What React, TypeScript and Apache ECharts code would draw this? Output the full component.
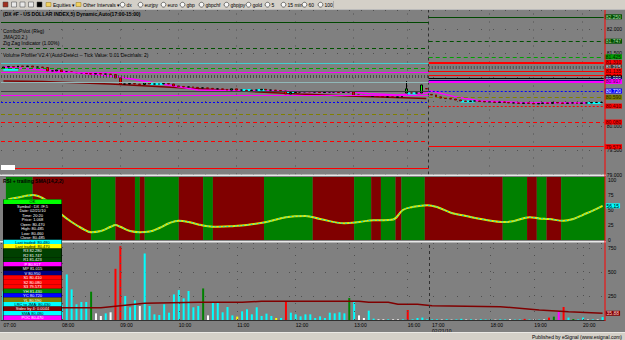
import React, { useEffect, useRef } from "react";
import * as echarts from "echarts";

// ---------- DATA ----------
const BAR_COUNT = 124;
const tickBars = [0, 12, 24, 36, 48, 60, 72, 83, 88, 100, 109, 119];
const tickLabels = ["07:00", "08:00", "09:00", "10:00", "11:00", "12:00", "13:00", "16:00", "17:00", "18:00", "19:00", "20:00"];
const sessionDate = "02/21/10";
const eveningStart = 88;

const closes = [
  81.215, 81.225, 81.215, 81.235, 81.225, 81.235, 81.215, 81.215, 81.205, 81.135,
  81.135, 81.155, 81.115, 81.115, 81.105, 81.095, 81.095, 81.08, 81.07, 81.08,
  81.07, 81.07, 81.06, 80.99, 80.865, 80.865, 80.875, 80.865, 80.855, 80.885,
  80.865, 80.865, 80.865, 80.875, 80.865, 80.825, 80.815, 80.805, 80.805, 80.795,
  80.785, 80.785, 80.775, 80.765, 80.765, 80.755, 80.74, 80.765, 80.74, 80.74,
  80.73, 80.74, 80.74, 80.755, 80.74, 80.74, 80.73, 80.72, 80.66, 80.69,
  80.7, 80.7, 80.71, 80.7, 80.7, 80.69, 80.7, 80.7, 80.7, 80.69,
  80.7, 80.7, 80.64, 80.63, 80.62, 80.61, 80.62, 80.61, 80.6, 80.6,
  80.59, 80.6, 80.61, 80.765, 80.68, 80.68, 80.845, 80.765, 80.64, 80.6,
  80.575, 80.565, 80.555, 80.535, 80.515, 80.505, 80.515, 80.515, 80.505, 80.495,
  80.495, 80.485, 80.495, 80.485, 80.475, 80.475, 80.465, 80.475, 80.465, 80.455,
  80.465, 80.475, 80.465, 80.485, 80.475, 80.465, 80.475, 80.475, 80.465, 80.475,
  80.475, 80.485, 80.485, 80.485,
];
const openOverrides: [number, number][] = [[0, 81.195], [83, 80.68], [84, 80.68], [86, 80.68], [87, 80.77], [88, 80.65]];
const highOverrides: [number, number][] = [[83, 80.925]];

const volumes = [
  300, 250, 210, 180, 220, 150, 120, 100, 140, 260, 180, 90, 150,
  473, 318, 163, 187, 187, 294, 69, 42, 69, 80,
  532, 767, 249, 132, 204, 145, 691, 145, 59, 52,
  163, 76, 266, 311, 225, 301, 132, 145, 328, 48,
  180, 180, 80, 135, 48, 35, 90, 111, 59, 132,
  42, 66, 42, 21, 21, 190, 76, 59, 38, 59,
  59, 21, 38, 21, 76, 69, 80, 69, 228, 187,
  48, 21, 97, 14, 7, 7, 7, 7, 7, 7,
  104, 7, 21, 25, 7, 7, 7,
  5, 8, 4, 6, 12, 5, 7, 4, 8, 5,
  6, 4, 7, 5, 8, 4, 6, 12, 5, 7,
  4, 6, 25, 35, 93, 135, 25, 10, 6, 25,
  5, 7, 6, 30,
];
const volumeKinds = (
  "ccccccccccccc" + "cccccgwwcw" + "rrcccwcccc" + "ccccccccgw" + "cccccycccc" +
  "cccycrcccc" + "ccccccccgc" + "wwccwwcwwc" + "rcccccc" + "wcwccwcwcc" + "cwccwccrcw" +
  "cwrgmrcgcc" + "wcwc"
).split("");

const volumeAverage: [number, number][] = [
  [0, 128], [20, 128], [24, 149], [29, 173], [40, 184], [49, 184], [53, 194], [73, 194],
  [75, 184], [79, 184], [81, 163], [85, 163], [88, 149], [102, 138], [110, 104], [116, 86], [123, 70],
];
const volumeAverageLabel = "35.88";

const rsiPoints: [number, number][] = [
  [1, 68], [3, 71], [5, 74], [6, 75], [8, 70], [10, 58], [12, 42], [14, 30], [16, 20], [18, 13],
  [20, 15], [22, 22], [23, 25], [24, 22], [26, 15], [28, 13], [30, 14], [32, 20], [34, 28], [36, 32],
  [38, 30], [40, 26], [42, 23], [44, 22], [47, 23], [50, 25], [54, 30], [58, 38], [62, 40], [65, 35],
  [70, 28], [73, 30], [76, 33], [78, 33], [80, 34], [82, 50], [84, 55], [87, 58], [89, 55], [92, 45],
  [95, 40], [98, 35], [103, 30], [105, 32], [108, 38], [110, 36], [112, 35], [115, 32], [117, 35],
  [119, 42], [121, 49], [123, 57],
];
const rsiLastLabel = "56.15";
const rsiZones: [number, number, string][] = [
  [1, 6.5, "up"], [6.5, 18.5, "down"], [18.5, 23.5, "up"], [23.5, 27.5, "down"], [27.5, 28.5, "up"],
  [28.5, 29.5, "down"], [29.5, 36.5, "up"], [36.5, 41.5, "down"], [41.5, 43.5, "up"], [43.5, 54, "down"],
  [54, 64, "up"], [64, 72.5, "down"], [72.5, 76, "up"], [76, 78, "down"], [78, 81, "up"], [81, 82.2, "down"],
  [82.2, 87, "up"], [87, 103, "down"], [103, 108, "up"], [108, 110, "down"], [110, 112, "up"],
  [112, 115, "down"], [115, 124, "up"],
];

const jmaPoints: [number, number][] = [
  [0, 81.215], [13, 81.115], [24, 81.01], [40, 80.74], [61, 80.71], [72, 80.7], [75, 80.67], [81, 80.64],
  [87, 80.68], [88, 80.72], [93, 80.6], [98, 80.515], [106, 80.485], [123, 80.475],
];
const lowerLinePoints: [number, number][] = [
  [0, 80.925], [8, 80.915], [22, 80.865], [45, 80.74], [61, 80.66], [71, 80.62], [87, 80.565],
];
const cyanSegments: [number, number, number][] = [
  [0, 3, 81.16], [30, 33, 80.865], [49, 51, 80.742], [52, 54, 80.742], [58, 60, 80.7],
  [83, 85, 80.67], [94, 97, 80.505], [120, 123, 80.475],
];

const leftLevels = [82.135, 81.6, 81.3, 81.19, 81.115, 81.02, 80.905, 80.71, 80.64, 80.485, 80.245, 79.68, 79.13];
const leftLevelKinds = ["dkgreen", "dkgreenDash", "cyan", "greenDash", "magenta", "ticks", "paleCyan", "dkgray", "magenta", "blueDot", "oliveDash", "redDash", "red"];
const rightLevels = [82.25, 81.747, 81.425, 81.31, 81.215, 81.135, 81.04, 80.99, 80.95, 80.917, 80.72, 80.59, 80.41, 79.573];
const rightLevelKinds = ["dkgreen", "dkgreenDash", "greenDash", "redThick", "ticks", "red", "red", "black", "navy", "magentaThick", "blueDot", "oliveDash", "redDot", "red"];
const sharedLevels = [80.08];
const sharedLevelKinds = ["redDash"];
const lastPrice = 80.485;

const priceAxisLabels = [79, 79.5, 80, 81.5, 82];
const rsiAxisLabels = [0, 25, 50, 75, 100];
const volumeAxisLabels = [250, 500, 750];

const legendRows = [
  "OK", "Symbol : DX #F,5", "Date: 02/21/10", "Time: 20:20", "Price: 1.068", "Open: 80.470", "High: 80.485",
  "Low: 80.460", "Close: 80.485", "Last traded: 80.480", "Last traded: 80.470", "R3 82.280", "R2 81.747",
  "R1 81.423", "P 80.917", "MP 81.015", "V 80.950", "S1 80.410", "S2 80.080", "S3 79.573", "YH 81.430",
  "YC 80.720", "YL 80.590", "LRC to JMA: 80.430", "Stdev by 4: 0.0044", "SMA 80.480", "POC 80.470",
];
const legendFills = [
  "#00ff00", "#000000", "#000000", "#000000", "#000000", "#000000", "#000000", "#000000", "#000000",
  "#00ffff", "#ffff00", "#004000", "#004000", "#004000", "#ff00ff", "#000000", "#000080", "#ff0000",
  "#ff0000", "#ff0000", "#008000", "#0000ff", "#808000", "#00ffff", "#800000", "#00ffff", "#ff00ff",
];

const titleText = "(DX #F - US DOLLAR INDEX,5) Dynamic,Auto(17:00-15:00)";
const studyTitles = ["ComboPivot (Reg)", "JMA(20,2,)", "Zig Zag Indicator (1.00%)", "Volume Profiler V2.4 (Auto-Detect -- Tick Value: 0.01 Decimals: 2)"];
const rsiTitle = "RSI + trailing SMA(14,2,2)";
const toolbarFolders = ["Equities", "Other Intervals"];
const toolbarSymbols = ["dx", "eurjpy", "euro", "gbp", "gbpchf", "gbpjpy", "gold", "5", "15 min", "60", "100"];
const footerText = "Published by eSignal (www.esignal.com)";

// ---------- STYLES ----------
const FONT = "Arial, 'Liberation Sans', sans-serif";
const levelStyles: Record<string, any> = {
  dkgreen: { color: "#004800", width: 1, type: "solid" },
  dkgreenDash: { color: "#005000", width: 1, type: [4, 3] },
  greenDash: { color: "#00a000", width: 1, type: [4, 3] },
  cyan: { color: "#40d0d0", width: 1, type: "solid" },
  paleCyan: { color: "#90b8b8", width: 1, type: "solid" },
  magenta: { color: "#ff00ff", width: 1, type: "solid" },
  magentaThick: { color: "#ff00ff", width: 2, type: "solid" },
  ticks: { color: "#4a4a4a", width: 3, type: [1, 2] },
  dkgray: { color: "#404040", width: 1, type: "solid" },
  blueDot: { color: "#0000ff", width: 1, type: [2, 2] },
  oliveDash: { color: "#808000", width: 1, type: [4, 3] },
  redDash: { color: "#ff0000", width: 1, type: [4, 3] },
  redDot: { color: "#ff0000", width: 1, type: [2, 2] },
  red: { color: "#ff0000", width: 1, type: "solid" },
  redThick: { color: "#ff0000", width: 2, type: "solid" },
  black: { color: "#000000", width: 1, type: "solid" },
  navy: { color: "#000080", width: 1, type: "solid" },
};
const levelLabelColors: Record<string, [string, string]> = {
  dkgreen: ["#005000", "#a8d8a8"], dkgreenDash: ["#005000", "#a8d8a8"], greenDash: ["#00a000", "#002000"],
  ticks: ["#404040", "#e0e0e0"], red: ["#ff0000", "#400000"], redThick: ["#ff0000", "#400000"],
  redDash: ["#ff0000", "#400000"], redDot: ["#ff0000", "#400000"], black: ["#000000", "#ffffff"],
  navy: ["#000080", "#ffffff"], magentaThick: ["#ff00ff", "#400040"], blueDot: ["#0000ff", "#ffffff"],
  oliveDash: ["#808000", "#202000"],
};
const volumeColors: Record<string, string> = {
  c: "#00ffff", w: "#ffffff", r: "#ff0000", g: "#008000", y: "#ffff00", m: "#ff00ff",
};
const tagLabel = (text: string, bg: string, fg: string) => ({
  show: true, formatter: text, backgroundColor: bg, color: fg, fontSize: 5, lineHeight: 5,
  fontFamily: FONT, padding: [0, 1, 0, 1],
});

export default function App() {
  const ref = useRef<HTMLDivElement>(null);
  useEffect(() => {
    document.body.style.margin = "0";
    if (!ref.current) return;
    const chart = echarts.init(ref.current, undefined, { renderer: "svg" });

    const categories = closes.map((_, i) => String(i));
    const tickMap: Record<number, string> = {};
    tickBars.forEach((b, k) => {
      tickMap[b] = b === eveningStart ? tickLabels[k] + "\n" + sessionDate : tickLabels[k];
    });

    const openMap = new Map(openOverrides);
    const highMap = new Map(highOverrides);
    const candleData = closes.map((c, i) => {
      const o = openMap.has(i) ? openMap.get(i)! : i > 0 ? closes[i - 1] : c;
      const hi = highMap.has(i) ? highMap.get(i)! : Math.max(o, c);
      return [o, c, Math.min(o, c), hi];
    });

    const fmt3 = (v: number) => v.toFixed(3);
    const levelLine = (x0: number, x1: number, v: number, kind: string, withLabel: boolean) => {
      const lc = levelLabelColors[kind];
      return [
        {
          coord: [x0, v],
          lineStyle: levelStyles[kind],
          label: withLabel && lc
            ? { ...tagLabel(fmt3(v), lc[0], lc[1]), position: "end", distance: 1 }
            : { show: false },
        },
        { coord: [x1, v] },
      ];
    };

    const priceMarkLines: any[] = [];
    leftLevels.forEach((v, k) => priceMarkLines.push(levelLine(0, eveningStart, v, leftLevelKinds[k], false)));
    sharedLevels.forEach((v, k) => priceMarkLines.push(levelLine(0, BAR_COUNT, v, sharedLevelKinds[k], true)));
    rightLevels.forEach((v, k) => priceMarkLines.push(levelLine(eveningStart, BAR_COUNT, v, rightLevelKinds[k], true)));
    priceMarkLines.push({
      yAxis: lastPrice,
      lineStyle: { opacity: 0 },
      label: { ...tagLabel(fmt3(lastPrice), "#00ff00", "#000"), position: "end", distance: 1 },
    });

    const hourLines = tickBars.filter((b) => b !== 0 && b !== eveningStart).map((b) => ({
      xAxis: b + 0.5, lineStyle: { color: "#505050", width: 1, type: [1, 7] }, label: { show: false },
    }));
    const sessionLine = { xAxis: eveningStart, lineStyle: { color: "#303030", width: 1, type: [3, 3] }, label: { show: false } };

    const cyanData: any[] = [];
    cyanSegments.forEach(([a, b, v]) => {
      cyanData.push([a + 0.5, v], [b + 0.5, v], [b + 0.5, null]);
    });

    const zoneColor: Record<string, string> = { up: "#008000", down: "#800000" };

    const option: any = {
      animation: false,
      backgroundColor: "#808080",
      textStyle: { fontFamily: FONT },
      grid: [
        { left: 1, right: 20, top: 10, height: 164.5 },
        { left: 1, right: 20, top: 177, height: 63 },
        { left: 1, right: 20, top: 243, height: 77 },
      ],
      xAxis: [
        { type: "category", gridIndex: 0, data: categories, show: false, boundaryGap: true },
        { type: "value", gridIndex: 0, min: 0, max: BAR_COUNT, show: false },
        { type: "value", gridIndex: 1, min: 0, max: BAR_COUNT, show: false },
        {
          type: "category", gridIndex: 2, data: categories, boundaryGap: true,
          axisLine: { show: true, lineStyle: { color: "#303030", width: 1 } },
          axisTick: { show: false },
          splitLine: { show: false },
          axisLabel: {
            interval: 0, fontSize: 5, color: "#000", align: "left", margin: 2, lineHeight: 6, fontFamily: FONT,
            formatter: (_v: string, idx: number) => tickMap[idx] || "",
          },
        },
        { type: "value", gridIndex: 2, min: 0, max: BAR_COUNT, show: false },
      ],
      yAxis: [
        {
          type: "value", gridIndex: 0, position: "right", min: 79, max: 82.39, interval: 0.5, scale: true,
          axisLine: { show: false }, axisTick: { show: false },
          splitLine: { show: true, lineStyle: { color: "#505050", type: [1, 11] } },
          axisLabel: {
            fontSize: 5, color: "#000", margin: 3, fontFamily: FONT,
            formatter: (v: number) => (priceAxisLabels.some((p) => Math.abs(p - v) < 1e-6) ? v.toFixed(3) : ""),
          },
        },
        {
          type: "value", gridIndex: 1, position: "right", min: 0, max: 105, interval: 25,
          axisLine: { show: false }, axisTick: { show: false }, splitLine: { show: false },
          axisLabel: {
            fontSize: 5, color: "#000", margin: 3, fontFamily: FONT,
            formatter: (v: number) => (rsiAxisLabels.includes(v) ? String(v) : ""),
          },
        },
        {
          type: "value", gridIndex: 2, position: "right", min: 0, max: 800, interval: 250,
          axisLine: { show: false }, axisTick: { show: false },
          splitLine: { show: true, lineStyle: { color: "#505050", type: [1, 11] } },
          axisLabel: {
            fontSize: 5, color: "#000", margin: 3, fontFamily: FONT,
            formatter: (v: number) => (volumeAxisLabels.includes(v) ? String(v) : ""),
          },
        },
      ],
      series: [
        {
          type: "line", xAxisIndex: 1, yAxisIndex: 0, data: [], z: 1, silent: true,
          markLine: { silent: true, symbol: ["none", "none"], label: { show: false }, data: [...hourLines, sessionLine, ...priceMarkLines] },
        },
        {
          type: "line", xAxisIndex: 1, yAxisIndex: 0, z: 2, symbol: "none", silent: true,
          data: lowerLinePoints.map(([i, v]) => [i + 0.5, v]),
          lineStyle: { color: "#800000", width: 1.5 },
        },
        {
          type: "line", xAxisIndex: 1, yAxisIndex: 0, z: 3, symbol: "none", silent: true,
          data: jmaPoints.map(([i, v]) => [i + 0.5, v]),
          lineStyle: { color: "#ff00ff", width: 1.5 },
        },
        {
          type: "line", xAxisIndex: 1, yAxisIndex: 0, z: 3, symbol: "none", silent: true, connectNulls: false,
          data: cyanData, lineStyle: { color: "#00ffff", width: 2 },
        },
        {
          type: "candlestick", xAxisIndex: 0, yAxisIndex: 0, z: 4, silent: true, barMaxWidth: 3,
          data: candleData,
          itemStyle: { color: "#00ff00", color0: "#ff0000", borderColor: "#000000", borderColor0: "#800000", borderWidth: 1 },
        },
        {
          type: "line", xAxisIndex: 2, yAxisIndex: 1, data: [], z: 1, silent: true,
          markArea: {
            silent: true,
            data: rsiZones.map(([a, b, k]) => [{ xAxis: a, itemStyle: { color: zoneColor[k] } }, { xAxis: b }]),
          },
        },
        {
          type: "line", xAxisIndex: 2, yAxisIndex: 1, z: 3, symbol: "none", smooth: 0.4, silent: true,
          data: rsiPoints.map(([i, v]) => [i + 0.5, v]),
          lineStyle: { color: "#e8e800", width: 2 },
        },
        {
          type: "line", xAxisIndex: 2, yAxisIndex: 1, z: 4, symbol: "none", smooth: 0.4, silent: true,
          data: rsiPoints.map(([i, v]) => [i + 0.5, v]),
          lineStyle: { color: "#00e0e0", width: 1, type: [2, 2] },
          endLabel: { ...tagLabel(rsiLastLabel, "#00ffff", "#000"), distance: 3 },
        },
        {
          type: "bar", xAxisIndex: 3, yAxisIndex: 2, z: 3, barWidth: 2, silent: true,
          data: volumes.map((v, i) => ({ value: v, itemStyle: { color: volumeColors[volumeKinds[i]] || "#00ffff" } })),
        },
        {
          type: "line", xAxisIndex: 4, yAxisIndex: 2, data: [], z: 1, silent: true,
          markLine: { silent: true, symbol: ["none", "none"], label: { show: false }, data: [...hourLines, sessionLine] },
        },
        {
          type: "line", xAxisIndex: 4, yAxisIndex: 2, z: 4, symbol: "none", silent: true,
          data: volumeAverage.map(([i, v]) => [i + 0.5, v]),
          lineStyle: { color: "#800000", width: 1.5 },
          endLabel: { ...tagLabel(volumeAverageLabel, "#800000", "#ffd0d0"), distance: 3 },
        },
      ],
      graphic: buildGraphics(),
    };
    chart.setOption(option);
    return () => chart.dispose();
  }, []);

  return <div ref={ref} style={{ width: 625, height: 340 }} />;
}

function buildGraphics() {
  const g: any[] = [];
  const Z = 100;
  // toolbar
  g.push({ type: "rect", z: Z, shape: { x: 0, y: 0, width: 625, height: 9 }, style: { fill: "#d4d0c8" } });
  g.push({ type: "rect", z: Z, shape: { x: 0, y: 9, width: 625, height: 0.6 }, style: { fill: "#f4f4f4" } });
  const iconFills = ["#a03020", "#e8e8e8", "#e8e8e8", "#e8e8e8", "#000000"];
  iconFills.forEach((f, k) => {
    g.push({ type: "rect", z: Z, shape: { x: 3 + k * 8.5, y: 2, width: 5, height: 5 }, style: { fill: f, stroke: "#404040", lineWidth: 0.5 } });
  });
  const folderX = [46, 76];
  toolbarFolders.forEach((t, k) => {
    g.push({ type: "rect", z: Z, shape: { x: folderX[k], y: 2.5, width: 5, height: 4 }, style: { fill: "#f0d060", stroke: "#806000", lineWidth: 0.4 } });
    g.push({ type: "text", z: Z, style: { x: folderX[k] + 7, y: 4.8, text: t + " \u25BE", fill: "#000", font: `5px ${FONT}`, verticalAlign: "middle" } });
  });
  const symX = [120, 138, 161, 180, 199, 224, 246, 265, 281, 302, 318];
  toolbarSymbols.forEach((t, k) => {
    g.push({ type: "circle", z: Z, shape: { cx: symX[k] + 2.5, cy: 4.7, r: 2.4 }, style: { fill: "#f8f8f8", stroke: "#202020", lineWidth: 0.6 } });
    g.push({ type: "text", z: Z, style: { x: symX[k] + 6.5, y: 4.8, text: t, fill: "#000", font: `5px ${FONT}`, verticalAlign: "middle" } });
  });
  g.push({ type: "rect", z: Z, shape: { x: 333, y: 1, width: 0.6, height: 7 }, style: { fill: "#909090" } });
  // title and study names
  g.push({ type: "text", z: Z, style: { x: 3, y: 13.5, text: titleText, fill: "#000", font: `bold 5px ${FONT}`, verticalAlign: "middle" } });
  const studyY = [30.5, 36.5, 42.5, 54.5];
  studyTitles.forEach((t, k) => {
    g.push({ type: "text", z: Z, style: { x: 3, y: studyY[k], text: t, fill: "#000", font: `5px ${FONT}`, verticalAlign: "middle" } });
  });
  g.push({ type: "rect", z: Z, shape: { x: 1, y: 165, width: 14, height: 5 }, style: { fill: "#ffffff" } });
  // panel separators and right edge
  g.push({ type: "rect", z: Z, shape: { x: 0, y: 174.6, width: 606, height: 1.4 }, style: { fill: "#e8e8e8" } });
  g.push({ type: "rect", z: Z, shape: { x: 0, y: 241, width: 606, height: 1.4 }, style: { fill: "#e8e8e8" } });
  g.push({ type: "rect", z: Z, shape: { x: 604.5, y: 10, width: 1, height: 311 }, style: { fill: "#ff0000" } });
  g.push({ type: "text", z: Z, style: { x: 3, y: 180.8, text: rsiTitle, fill: "#000", font: `bold 5px ${FONT}`, verticalAlign: "middle" } });
  // legend box
  const rowH = 4.46;
  const top = 199.5;
  g.push({ type: "rect", z: Z, shape: { x: 3, y: top, width: 59, height: rowH * legendRows.length }, style: { fill: "#000" } });
  legendRows.forEach((t, k) => {
    const fill = legendFills[k];
    const light = ["#00ff00", "#00ffff", "#ffff00"].includes(fill);
    g.push({ type: "rect", z: Z, shape: { x: 3.5, y: top + k * rowH, width: 58, height: rowH }, style: { fill } });
    g.push({ type: "text", z: Z, style: { x: 32.5, y: top + k * rowH + rowH / 2 + 0.2, text: t, fill: light ? "#000" : "#fff", font: `4px ${FONT}`, align: "center", verticalAlign: "middle" } });
  });
  // footer
  g.push({ type: "rect", z: Z, shape: { x: 0, y: 332, width: 625, height: 8 }, style: { fill: "#d4d0c8" } });
  g.push({ type: "rect", z: Z, shape: { x: 0, y: 332, width: 625, height: 0.6 }, style: { fill: "#ffffff" } });
  g.push({ type: "text", z: Z, style: { x: 622, y: 336.5, text: footerText, fill: "#000", font: `5px ${FONT}`, align: "right", verticalAlign: "middle" } });
  return g;
}
